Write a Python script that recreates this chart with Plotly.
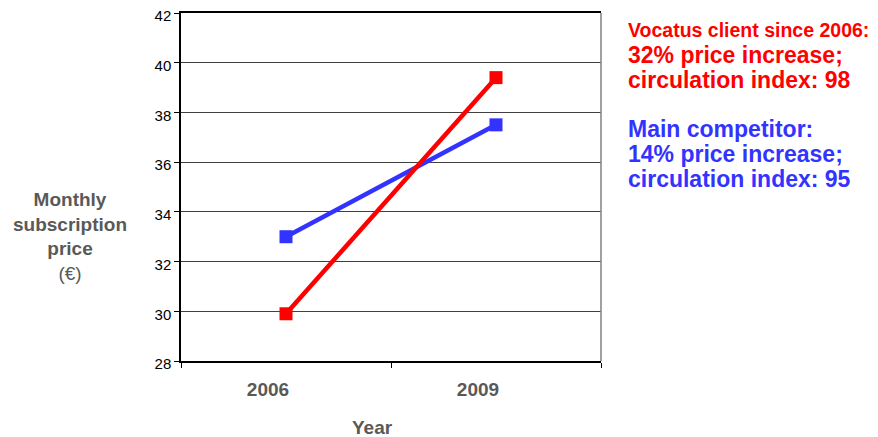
import plotly.graph_objects as go

years = ["2006", "2009"]
client_price = [29.9, 39.4]
competitor_price = [33.0, 37.5]
y_ticks = [28, 30, 32, 34, 36, 38, 40, 42]
client_note = ["Vocatus client since 2006:", "32% price increase;", "circulation index: 98"]
competitor_note = ["Main competitor:", "14% price increase;", "circulation index: 95"]

RED = "#FF0000"
BLUE = "#3333FF"
GRAY = "#595959"
FONT = "Arial, Liberation Sans, sans-serif"

fig = go.Figure()
fig.add_trace(go.Scatter(
    x=list(range(len(years))), y=competitor_price, mode="lines+markers",
    line=dict(color=BLUE, width=4.5), marker=dict(symbol="square", size=13, color=BLUE),
    showlegend=False, hoverinfo="skip"))
fig.add_trace(go.Scatter(
    x=list(range(len(years))), y=client_price, mode="lines+markers",
    line=dict(color=RED, width=4.5), marker=dict(symbol="square", size=13, color=RED),
    showlegend=False, hoverinfo="skip"))

# page body has an 8px margin, so the figure is 8px smaller and offset
fig.update_layout(
    width=870, height=429,
    margin=dict(l=173, r=277, t=5, b=76, autoexpand=False),
    paper_bgcolor="white", plot_bgcolor="white",
    font=dict(family=FONT, color="black"),
    xaxis=dict(
        range=[-0.5, 1.5], tickmode="array", tickvals=list(range(len(years))), ticktext=years,
        ticks="", showgrid=False, zeroline=False, automargin=False,
        showline=True, linecolor="black", linewidth=1.5, mirror=True,
        tickfont=dict(size=19, color=GRAY, family=FONT, weight="bold"),
        ticklabelshift=-18, ticklabelstandoff=10,
        minor=dict(tickmode="array", tickvals=[-0.5, 0.5, 1.5], ticks="outside",
                   ticklen=5, tickcolor="black", showgrid=False),
        fixedrange=True,
    ),
    yaxis=dict(
        range=[28, 42], tickmode="array", tickvals=y_ticks,
        ticks="outside", ticklen=5, tickcolor="black", automargin=False,
        ticklabeloverflow="allow", ticklabelshift=3,
        showgrid=True, gridcolor="#404040", gridwidth=1,
        zeroline=False, showline=True, linecolor="black", linewidth=1.5,
        tickfont=dict(size=15, color="black"),
        fixedrange=True,
    ),
)

# plot border right (grey)
fig.add_shape(type="line", xref="paper", yref="paper", x0=1, x1=1, y0=0, y1=1,
              line=dict(color="#808080", width=1.5))

# x axis title
fig.add_annotation(text="<b>Year</b>", xref="paper", yref="paper", x=0.457, y=-0.19,
                   showarrow=False, yanchor="middle", font=dict(size=19, color=GRAY))

# y axis title
fig.add_annotation(text="<b>Monthly<br>subscription<br>price</b><br>(€)",
                   xref="paper", yref="paper", x=-0.265, y=0.358, xanchor="center", yanchor="middle",
                   showarrow=False, align="center", font=dict(size=19, color=GRAY))

# right-hand notes, one annotation per line (page pixel positions -> paper coords)
def px_x(px):
    return (px - 181) / 420.0

def px_y(py):
    return (361 - py) / 348.0

note_sizes = [19.5, 23, 23]
for i, line in enumerate(client_note):
    fig.add_annotation(text="<b>" + line + "</b>", xref="paper", yref="paper",
                       x=px_x(626), y=px_y(30 + 25 * i), xanchor="left", yanchor="middle",
                       showarrow=False, align="left", font=dict(size=note_sizes[i], color=RED))
for i, line in enumerate(competitor_note):
    fig.add_annotation(text="<b>" + line + "</b>", xref="paper", yref="paper",
                       x=px_x(626), y=px_y(129 + 25 * i), xanchor="left", yanchor="middle",
                       showarrow=False, align="left", font=dict(size=23, color=BLUE))

fig.write_html("out.html")
